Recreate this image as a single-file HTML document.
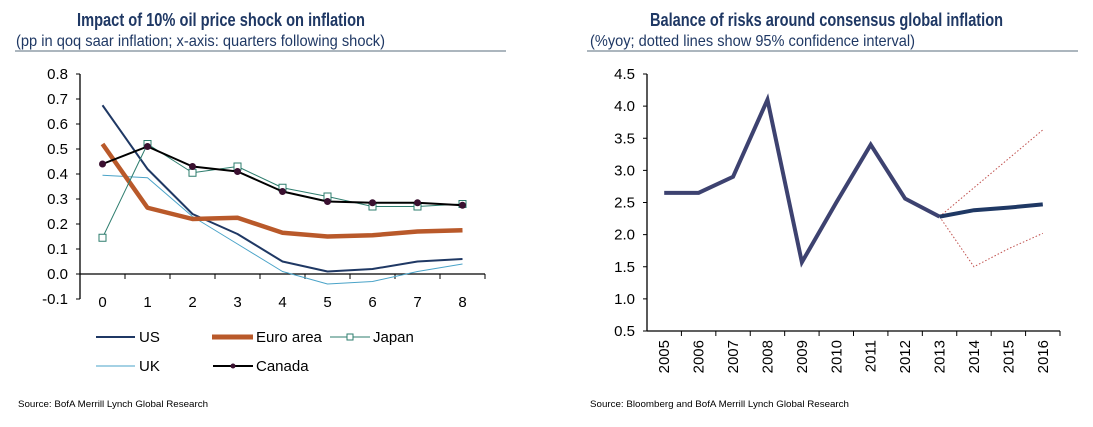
<!DOCTYPE html>
<html><head><meta charset="utf-8"><style>
body{margin:0;background:#fff;}
svg{display:block;font-family:"Liberation Sans",Arial,sans-serif;}
</style></head><body>
<svg width="1093" height="427" viewBox="0 0 1093 427">
<g>
<text x="77" y="26" font-size="18" font-weight="bold" fill="#1f3864" textLength="288" lengthAdjust="spacingAndGlyphs">Impact of 10% oil price shock on inflation</text>
<text x="16" y="46" font-size="16" fill="#1f3864" textLength="369" lengthAdjust="spacingAndGlyphs">(pp in qoq saar inflation; x-axis: quarters following shock)</text>
<line x1="15" y1="51" x2="506" y2="51" stroke="#5a6e7e" stroke-width="1"/>
</g>
<g>
<text x="650" y="26" font-size="18" font-weight="bold" fill="#1f3864" textLength="353" lengthAdjust="spacingAndGlyphs">Balance of risks around consensus global inflation</text>
<text x="590" y="46" font-size="16" fill="#1f3864" textLength="325" lengthAdjust="spacingAndGlyphs">(%yoy; dotted lines show 95% confidence interval)</text>
<line x1="587" y1="51" x2="1078" y2="51" stroke="#5a6e7e" stroke-width="1"/>
</g>
<g id="left"></g>
<g id="right"></g>
<g font-size="15" fill="#000">
<line x1="96" y1="337" x2="135" y2="337" stroke="#1f3864" stroke-width="2"/>
<text x="139" y="342">US</text>
<line x1="212" y1="337" x2="253" y2="337" stroke="#b9592a" stroke-width="5"/>
<text x="256" y="342">Euro area</text>
<line x1="330" y1="337" x2="370" y2="337" stroke="#2e7d6e" stroke-width="1"/>
<rect x="347" y="334" width="6" height="6" fill="#fff" stroke="#2e7d6e" stroke-width="1"/>
<text x="373" y="342">Japan</text>
<line x1="96" y1="366" x2="135" y2="366" stroke="#4aa3c8" stroke-width="1"/>
<text x="139" y="371">UK</text>
<line x1="213" y1="366" x2="253" y2="366" stroke="#000" stroke-width="2"/>
<circle cx="233" cy="366" r="2.5" fill="#3a1030"/>
<text x="256" y="371">Canada</text>
</g>
<text x="18" y="407" font-size="9.5" fill="#000" textLength="190" lengthAdjust="spacingAndGlyphs">Source: BofA Merrill Lynch Global Research</text>
<text x="590" y="407" font-size="9.5" fill="#000" textLength="259" lengthAdjust="spacingAndGlyphs">Source: Bloomberg and BofA Merrill Lynch Global Research</text>
</svg>
<script>
// Left chart data
const leftCats = ["0","1","2","3","4","5","6","7","8"];
const leftTicks = [-0.1,0,0.1,0.2,0.3,0.4,0.5,0.6,0.7,0.8];
const usVals = [0.675,0.42,0.24,0.16,0.05,0.01,0.02,0.05,0.06];
const euroVals = [0.52,0.265,0.22,0.225,0.165,0.15,0.155,0.17,0.175];
const japanVals = [0.145,0.52,0.405,0.43,0.345,0.31,0.27,0.27,0.28];
const ukVals = [0.395,0.385,0.23,0.12,0.01,-0.04,-0.03,0.01,0.04];
const canadaVals = [0.44,0.51,0.43,0.41,0.33,0.29,0.285,0.285,0.275];
// Right chart data
const years = ["2005","2006","2007","2008","2009","2010","2011","2012","2013","2014","2015","2016"];
const rightTicks = [0.5,1.0,1.5,2.0,2.5,3.0,3.5,4.0,4.5];
const inflationVals = [2.65,2.65,2.9,4.1,1.57,2.5,3.4,2.56,2.28,2.38,2.42,2.47];
const upperVals = [null,null,null,null,null,null,null,null,2.28,2.73,3.18,3.63];
const lowerVals = [null,null,null,null,null,null,null,null,2.28,1.5,1.78,2.02];

const NS="http://www.w3.org/2000/svg";
function mk(parent,tag,attrs){const e=document.createElementNS(NS,tag);for(const k in attrs)e.setAttribute(k,attrs[k]);parent.appendChild(e);return e;}

// ---- Left ----
const L=document.getElementById('left');
const lx0=80,lx1=485,ly=v=>274-250*v;
const lw=(lx1-lx0)/leftCats.length;
const lx=i=>lx0+lw*(i+0.5);
let ax=mk(L,'line',{x1:lx0,y1:ly(-0.1),x2:lx0,y2:ly(0.8),stroke:'#000','stroke-width':1.3});


leftTicks.forEach(t=>{
  mk(L,'line',{x1:lx0-4,y1:ly(t),x2:lx0,y2:ly(t),stroke:'#000'});
  const tx=mk(L,'text',{x:lx0-12,y:ly(t)+5,'font-size':15,'text-anchor':'end'});
  tx.textContent=t.toFixed(1);
  
  
});
let xa=mk(L,'line',{x1:lx0,y1:ly(0),x2:lx1,y2:ly(0),stroke:'#000','stroke-width':1.3});


leftCats.forEach((c,i)=>{
  mk(L,'line',{x1:lx0+lw*(i+1),y1:ly(0),x2:lx0+lw*(i+1),y2:ly(0)+5,stroke:'#000'});
  const tx=mk(L,'text',{x:lx(i),y:307,'font-size':15,'text-anchor':'middle'});
  tx.textContent=c;
  
  
});
function lpath(vals,stroke,w,name){
  const p=mk(L,'polyline',{points:vals.map((v,i)=>lx(i)+','+ly(v)).join(' '),fill:'none',stroke:stroke,'stroke-width':w,'stroke-linejoin':'round'});
  
  
}
lpath(ukVals,'#4aa3c8',1,'uk-line');
lpath(usVals,'#1f3864',2,'us-line');
lpath(euroVals,'#b9592a',4.5,'euro-area-line');
lpath(japanVals,'#2e7d6e',1,'japan-line');
japanVals.forEach((v,i)=>{
  const r=mk(L,'rect',{x:lx(i)-3.5,y:ly(v)-3.5,width:7,height:7,fill:'#fff',stroke:'#2e7d6e'});
  
  
});
lpath(canadaVals,'#000',2,'canada-line');
canadaVals.forEach((v,i)=>{
  const c=mk(L,'circle',{cx:lx(i),cy:ly(v),r:3.5,fill:'#3a1030'});
  
  
});

// ---- Right ----
const R=document.getElementById('right');
const rx0=647,rx1=1060,ry=v=>331-64.25*(v-0.5);
const rw=(rx1-rx0)/years.length;
const rx=i=>rx0+rw*(i+0.5);
let ay=mk(R,'line',{x1:rx0,y1:ry(0.5),x2:rx0,y2:ry(4.5),stroke:'#000','stroke-width':1.3});


rightTicks.forEach(t=>{
  mk(R,'line',{x1:rx0-4,y1:ry(t),x2:rx0,y2:ry(t),stroke:'#000'});
  const tx=mk(R,'text',{x:rx0-12,y:ry(t)+5,'font-size':15,'text-anchor':'end'});
  tx.textContent=t.toFixed(1);
  
  
});
let bx=mk(R,'line',{x1:rx0,y1:ry(0.5),x2:rx1,y2:ry(0.5),stroke:'#000','stroke-width':1.3});


years.forEach((y,i)=>{
  mk(R,'line',{x1:rx0+rw*(i+1),y1:ry(0.5),x2:rx0+rw*(i+1),y2:ry(0.5)+5,stroke:'#000'});
  const tx=mk(R,'text',{x:0,y:0,'font-size':15,'text-anchor':'end',transform:'translate('+(rx(i)+5)+',340) rotate(-90)'});
  tx.textContent=y;
  
  
});
function rpts(vals,from,to){const a=[];vals.forEach((v,i)=>{if(v!==null&&i>=from&&i<=to)a.push(rx(i)+','+ry(v));});return a.join(' ');}
const up=mk(R,'polyline',{points:rpts(upperVals,0,11),fill:'none',stroke:'#c0504d','stroke-width':1,'stroke-dasharray':'1.5,2'});


const lo=mk(R,'polyline',{points:rpts(lowerVals,0,11),fill:'none',stroke:'#c0504d','stroke-width':1,'stroke-dasharray':'1.5,2'});


const hist=mk(R,'polyline',{points:rpts(inflationVals,0,8),fill:'none',stroke:'#3d4270','stroke-width':4,'stroke-linejoin':'miter'});


const fc=mk(R,'polyline',{points:rpts(inflationVals,8,11),fill:'none',stroke:'#1f3864','stroke-width':4});


</script>
</body></html>
